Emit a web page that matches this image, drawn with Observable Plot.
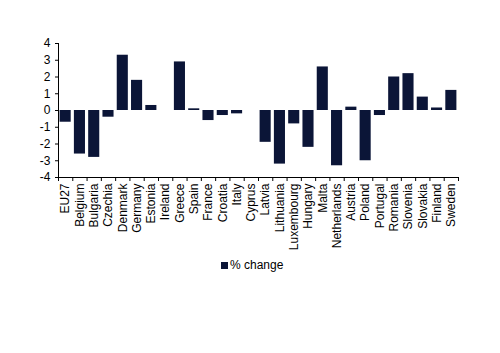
<!DOCTYPE html>
<html><head><meta charset="utf-8">
<script src="https://cdn.jsdelivr.net/npm/d3@7"></script>
<script src="https://cdn.jsdelivr.net/npm/@observablehq/plot@0.6"></script>
<style>
body{margin:0;background:#fff;font-family:"Liberation Sans",Arial,sans-serif;}
#legend{height:93px;position:relative;font-size:12px;}
#legend .item{position:absolute;left:221px;top:-2px;display:flex;align-items:center;}
#legend .sw{width:7px;height:7px;background:#0b1537;margin-right:2px;}
svg{overflow:visible;}
</style></head>
<body>
<div id="chart"></div>
<div id="legend"><div class="item"><span class="sw"></span><span>% change</span></div></div>
<script>
const countries = ["EU27","Belgium","Bulgaria","Czechia","Denmark","Germany","Estonia","Ireland","Greece","Spain","France","Croatia","Italy","Cyprus","Latvia","Lithuania","Luxembourg","Hungary","Malta","Netherlands","Austria","Poland","Portugal","Romania","Slovenia","Slovakia","Finland","Sweden"];
const change = [-0.7,-2.6,-2.8,-0.4,3.3,1.8,0.3,0,2.9,0.1,-0.6,-0.3,-0.2,0,-1.9,-3.2,-0.8,-2.2,2.6,-3.3,0.2,-3.0,-0.3,2.0,2.2,0.8,0.15,1.2];
const yTicks = [-4,-3,-2,-1,0,1,2,3,4];

const data = countries.map((c,i)=>({c, i, v: change[i]}));
const color = "#0b1537";
const chart = Plot.plot({
  width: 500, height: 260,
  marginTop: 43, marginBottom: 83, marginLeft: 58, marginRight: 42,
  style: {fontFamily: "Liberation Sans, Arial, sans-serif", fontSize: "12px", color: "#000"},
  x: {type: "linear", domain: [0, countries.length]},
  y: {domain: [-4, 4]},
  marks: [
    Plot.rectY(data, {x1: d => d.i, x2: d => d.i + 1, y1: 0, y2: "v", fill: color, insetLeft: 1.6, insetRight: 1.6}),
    Plot.ruleX([0], {stroke: "#000", strokeWidth: 1}),
    Plot.ruleY([-4], {stroke: "#000", strokeWidth: 1}),
    Plot.axisY({ticks: yTicks, tickSize: 3, tickPadding: 5, tickFormat: d => String(d), label: null, stroke:"#000"}),
    Plot.axisX({ticks: d3.range(countries.length + 1), tickSize: 4, tickFormat: () => "", label: null, stroke:"#000"}),
    Plot.axisX({ticks: countries.map((c,i)=>i+0.5), tickSize: 0, tickPadding: 6, tickRotate: -90, tickFormat: d => countries[Math.floor(d)], label: null})
  ]
});
document.getElementById("chart").appendChild(chart);
</script>
</body></html>
